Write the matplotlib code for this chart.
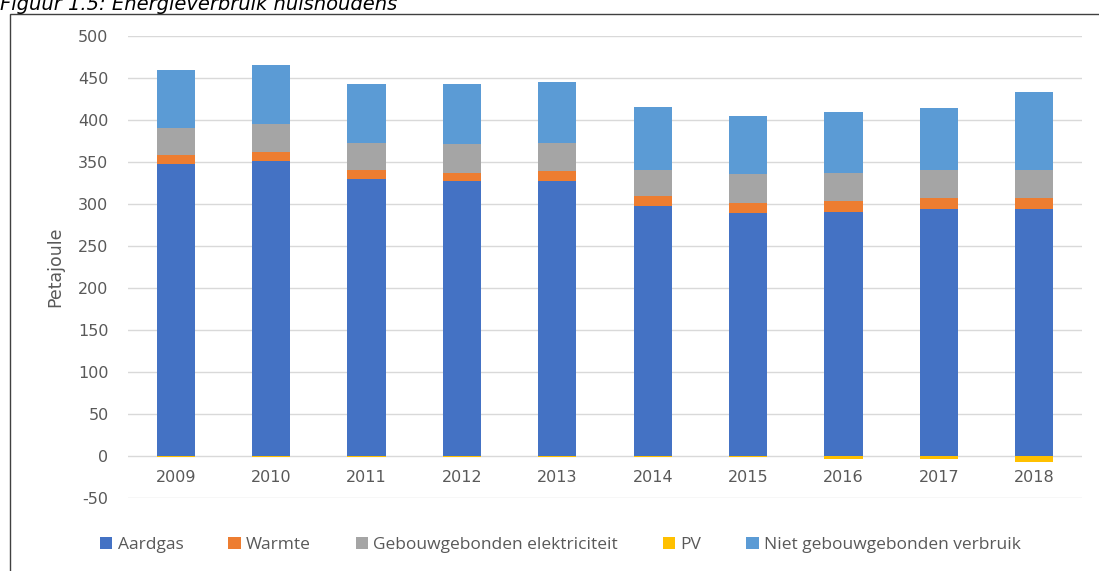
import matplotlib.pyplot as plt
import numpy as np
from matplotlib.patches import Rectangle

# Energieverbruik huishoudens, petajoule
YEARS = ["2009", "2010", "2011", "2012", "2013", "2014", "2015", "2016", "2017", "2018"]
AARDGAS = [348, 351, 330, 327, 327, 298, 289, 290, 294, 294]
WARMTE = [10, 11, 11, 10, 12, 12, 12, 13, 13, 13]
ELEKTRICITEIT = [32, 33, 32, 35, 34, 31, 35, 34, 33, 34]
PV = [-1, -1, -1, -1, -1, -1, -1, -4, -4, -7]
NIET_GEBOUW = [70, 70, 70, 71, 72, 75, 69, 73, 74, 92]

SERIES = [
    ("Aardgas", AARDGAS, "#4472C4"),
    ("Warmte", WARMTE, "#ED7D31"),
    ("Gebouwgebonden elektriciteit", ELEKTRICITEIT, "#A5A5A5"),
    ("PV", PV, "#FFC000"),
    ("Niet gebouwgebonden verbruik", NIET_GEBOUW, "#5B9BD5"),
]

TICK_COLOR = "#595959"
plt.rcParams["axes.unicode_minus"] = False

fig = plt.figure(figsize=(10.99, 5.71), dpi=100)
ax = fig.add_axes([128 / 1099, 1 - 498 / 571, 954 / 1099, 462 / 571])

x = np.arange(len(YEARS))
pos_base = np.zeros(len(YEARS))
neg_base = np.zeros(len(YEARS))
for name, vals, color in SERIES:
    vals = np.array(vals, dtype=float)
    bottom = np.where(vals >= 0, pos_base, neg_base)
    ax.bar(x, vals, width=0.4, bottom=bottom, color=color, label=name, zorder=3)
    pos_base += np.clip(vals, 0, None)
    neg_base += np.clip(vals, None, 0)

ax.set_xlim(-0.5, len(YEARS) - 0.5)
ax.set_ylim(-50, 500)
ax.set_yticks(np.arange(-50, 501, 50))
ax.grid(axis="y", color="#D9D9D9", linewidth=1, zorder=0)
for s in ax.spines.values():
    s.set_visible(False)

ax.set_xticks(x)
ax.set_xticklabels(YEARS)
ax.tick_params(axis="x", length=0, pad=-20, labelsize=11.5, labelcolor=TICK_COLOR)
ax.tick_params(axis="y", length=0, pad=14, labelsize=11.5, labelcolor=TICK_COLOR)
for lab in ax.get_xticklabels() + ax.get_yticklabels():
    lab.set_family("DejaVu Sans")
ax.set_ylabel("Petajoule", fontsize=12.5, color=TICK_COLOR, family="DejaVu Sans", labelpad=10)

leg = fig.legend(
    loc="center", bbox_to_anchor=(0.51, 1 - 545 / 571), ncol=5, frameon=False,
    handlelength=0.7, handleheight=0.7, handletextpad=0.3, columnspacing=2.6,
    prop={"family": "Open Sans", "size": 12.5},
)
for t in leg.get_texts():
    t.set_color(TICK_COLOR)

# chart frame and the caption above it (clipped at the top, as in the source)
fig.patches.append(Rectangle((10 / 1099, -0.1), 1.2, 1 - 14 / 571 + 0.1,
                             transform=fig.transFigure, fill=False,
                             edgecolor="#404040", linewidth=1))
fig.text(0.0, 1 - 10 / 571, "Figuur 1.5: Energieverbruik huishoudens",
         fontsize=14, style="italic", family="DejaVu Sans", va="baseline")

fig.savefig("out.png", dpi=100)
